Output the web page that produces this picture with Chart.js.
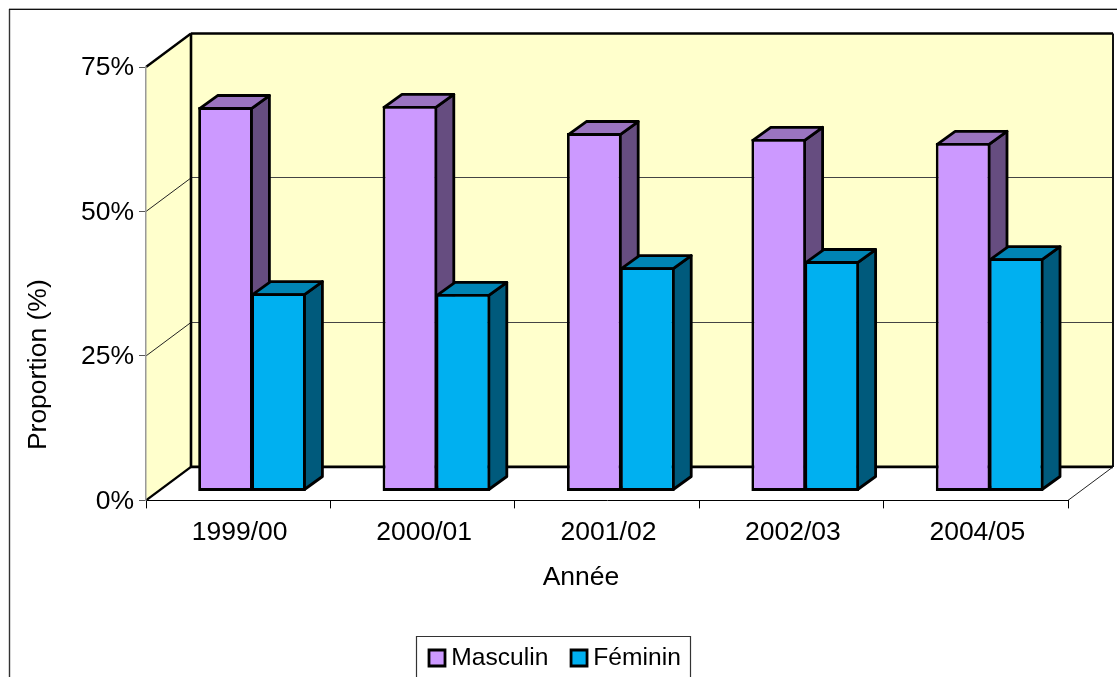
<!DOCTYPE html>
<html><head><meta charset="utf-8">
<style>html,body{margin:0;padding:0;background:#fff;overflow:hidden}canvas{display:block}</style>
<script src="https://cdn.jsdelivr.net/npm/chart.js@4"></script>
</head><body>
<canvas id="c" width="1117" height="677" style="width:1117px;height:677px"></canvas>
<script>
const categories = ['1999/00','2000/01','2001/02','2002/03','2004/05'];
const masculin = [66.5,66.7,62.0,61.0,60.3];
const feminin = [34.3,34.15,38.8,39.85,40.35];
const yTicks = [0,25,50,75];
const FONT = 'Liberation Sans, Arial, sans-serif';
const WALL = {dx:45, dy:-33.5};
const BAR_OFF = {dx:13.8, dy:-9};
const BAR_DEPTH = {dx:18, dy:-13};
const FACES = [{top:'#9A74C0',side:'#664D80'},{top:'#0084B4',side:'#005A7C'}];
const BW = 2.8;

function poly(ctx, pts, fill, stroke, lw){
  ctx.beginPath();
  pts.forEach((p,i)=> i?ctx.lineTo(p[0],p[1]):ctx.moveTo(p[0],p[1]));
  ctx.closePath();
  if(fill){ctx.fillStyle=fill;ctx.fill();}
  if(stroke){ctx.strokeStyle=stroke;ctx.lineWidth=lw;ctx.lineJoin='round';ctx.stroke();}
}
function line(ctx,x1,y1,x2,y2,c,w){
  ctx.beginPath();ctx.moveTo(x1,y1);ctx.lineTo(x2,y2);ctx.strokeStyle=c;ctx.lineWidth=w;ctx.stroke();
}
function shiftTitle(scale,tx,ty){
  if(scale._shifted) return;
  scale._shifted=true;
  const orig=scale.drawTitle;
  scale.drawTitle=function(){
    const c=this.ctx;c.save();c.translate(tx,ty);orig.call(this);c.restore();
  };
}
const scene = {
  id:'scene',
  afterLayout(chart){
    const lg = chart.legend;
    lg.left = 406.3; lg.right = 1100; lg.top = 617; lg.bottom = 700;
    shiftTitle(chart.scales.x,-26,0);
    shiftTitle(chart.scales.y,0,81);
  },
  beforeDraw(chart){
    const {ctx, chartArea:a, scales:{y}} = chart;
    ctx.save();
    ctx.fillStyle='#fff';ctx.fillRect(0,0,chart.width,chart.height);
    // outer frame
    line(ctx,9.5,9,9.5,677,'#333',1.4);
    line(ctx,9,9.5,1117,9.5,'#111',1);
    line(ctx,9,8.5,1117,8.5,'#aaa',1);
    // walls
    const L=a.left,R=a.right,T=a.top,B=a.bottom,dx=WALL.dx,dy=WALL.dy;
    poly(ctx,[[L,T],[L+dx,T+dy],[L+dx,B+dy],[L,B]],'#FFFFCC');
    poly(ctx,[[L+dx,T+dy],[R+dx,T+dy],[R+dx,B+dy],[L+dx,B+dy]],'#FFFFCC');
    yTicks.slice(1,-1).forEach(v=>{
      const p=y.getPixelForValue(v);
      line(ctx,L,p,L+dx,p+dy,'#222',1);
      const gy=Math.floor(p+dy)+0.5;
      line(ctx,L+dx,gy,R+dx,gy,'#444',1);
    });
    line(ctx,L+dx,T+dy,R+dx,T+dy,'#000',2.6);
    line(ctx,R+dx,T+dy,R+dx,B+dy,'#111',2);
    line(ctx,L+dx,T+dy,L+dx,B+dy,'#000',2.6);
    line(ctx,L+dx,B+dy,R+dx,B+dy,'#000',2.6);
    line(ctx,L,T,L+dx,T+dy,'#000',2.4);
    line(ctx,L,B,L+dx,B+dy,'#000',2.4);
    line(ctx,R,B,R+dx,B+dy,'#222',1);
    // legend frame
    line(ctx,416.5,636.5,690.5,636.5,'#333',1.2);
    line(ctx,416.5,636,416.5,677,'#333',1.2);
    line(ctx,690.5,636,690.5,677,'#333',1.2);
    ctx.restore();
  },
  beforeDatasetsDraw(chart){
    const ctx=chart.ctx, d=BAR_DEPTH;
    ctx.save();
    ctx.translate(BAR_OFF.dx,BAR_OFF.dy);
    chart.data.datasets.forEach((ds,i)=>{
      chart.getDatasetMeta(i).data.forEach(el=>{
        const p=el.getProps(['x','y','base','width'],true);
        const l=p.x-p.width/2+BW/2,r=p.x+p.width/2-BW/2,t=p.y+BW/2,b=p.base-BW/2;
        poly(ctx,[[r,t],[r+d.dx,t+d.dy],[r+d.dx,b+d.dy],[r,b]],FACES[i].side,'#000',BW);
        poly(ctx,[[l,t],[l+d.dx,t+d.dy],[r+d.dx,t+d.dy],[r,t]],FACES[i].top,'#000',BW);
      });
    });
    ctx.restore();
  },
  beforeDatasetDraw(chart){
    chart.ctx.save();chart.ctx.translate(BAR_OFF.dx,BAR_OFF.dy);
  },
  afterDatasetDraw(chart){chart.ctx.restore();}
};
new Chart(document.getElementById('c'),{
  type:'bar',
  data:{labels:categories,datasets:[
    {label:'Masculin',data:masculin,backgroundColor:'#CC99FF',borderColor:'#000',borderWidth:BW,borderSkipped:false,clip:false},
    {label:'Féminin',data:feminin,backgroundColor:'#00B0F0',borderColor:'#000',borderWidth:BW,borderSkipped:false,clip:false}
  ]},
  plugins:[scene],
  options:{
    responsive:false,animation:false,devicePixelRatio:1,
    datasets:{bar:{categoryPercentage:0.575,barPercentage:1.03}},
    layout:{padding:{left:0,right:49,top:67,bottom:0}},
    plugins:{
      tooltip:{enabled:false},title:{display:false},
      legend:{display:true,position:'bottom',align:'start',
        labels:{usePointStyle:true,pointStyle:'rect',boxWidth:4,boxHeight:16,padding:28.7,color:'#000',font:{family:FONT,size:24.6}}}
    },
    scales:{
      x:{
        afterFit(s){s.height=113.3;},
        grid:{display:true,drawOnChartArea:false,drawTicks:true,tickLength:8,color:'#000',offset:true},
        border:{display:true,color:'#000',width:1},
        ticks:{color:'#000',font:{family:FONT,size:26.5},padding:8,maxRotation:0,labelOffset:1.5},
        title:{display:true,text:'Année',color:'#000',font:{family:FONT,size:26.5},padding:{top:0,bottom:20}}
      },
      y:{
        min:0,max:75,
        afterFit(s){s.width=146;},
        afterBuildTicks(s){s.ticks=yTicks.map(v=>({value:v}));},
        grid:{display:true,drawOnChartArea:false,drawTicks:true,tickLength:7,color:'#555'},
        border:{display:true,color:'#999',width:1.5},
        ticks:{color:'#000',font:{family:FONT,size:26.5},padding:5,callback:v=>v+'%',labelOffset:1},
        title:{display:true,text:'Proportion (%)',color:'#000',font:{family:FONT,size:26.5},padding:{top:23,bottom:0}}
      }
    }
  }
});
</script>
</body></html>
